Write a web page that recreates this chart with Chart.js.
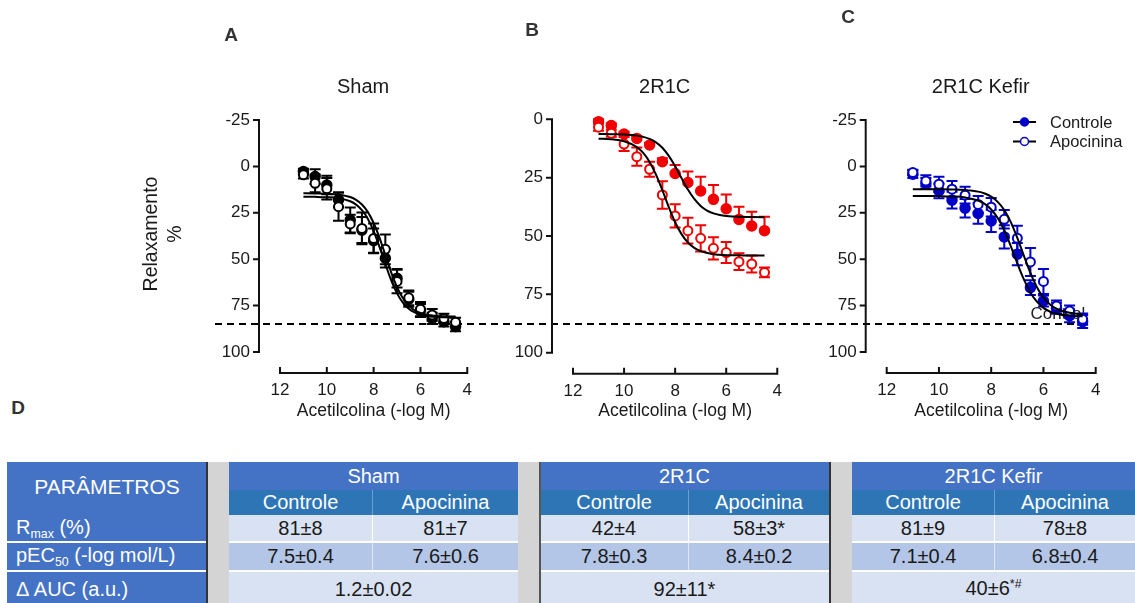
<!DOCTYPE html>
<html lang="pt">
<head>
<meta charset="UTF-8">
<title>Relaxamento à acetilcolina</title>
<script src="https://cdn.jsdelivr.net/npm/chart.js"></script>
<style>
  body { margin: 0; background: #fff; font-family: 'Liberation Sans', Arial, sans-serif; }
  #fig { position: relative; width: 1135px; height: 603px; overflow: hidden; background: #fff; }
  .panel { position: absolute; top: 0; }
  #refLine {
    position: absolute; left: 215px; width: 875px; height: 2px;
    background: repeating-linear-gradient(90deg, #000 0 7px, transparent 7px 12px);
  }
  .tag { position: absolute; font-weight: bold; font-size: 19px; color: #333; transform: translate(-50%, -50%); }
  .cell {
    position: absolute; box-sizing: border-box; display: flex; align-items: center;
    justify-content: center; font-size: 20px; color: #1a1a1a; white-space: nowrap;
  }
  .cell.head { color: #fff; }
  .cell.side { color: #fff; justify-content: flex-start; padding-left: 9px; }
  .cell sub { font-size: 0.62em; vertical-align: -0.3em; }
  .cell sup { font-size: 0.62em; vertical-align: 0.6em; }
  .vline { position: absolute; width: 2px; }
</style>
</head>
<body>
<div id="fig">
  <div id="refLine"></div>
  <canvas id="cA" class="panel"></canvas>
  <canvas id="cB" class="panel"></canvas>
  <canvas id="cC" class="panel"></canvas>
  <div class="tag" style="left:18px; top:408px;">D</div>
</div>

<script>
// ---- data ----
const doses = [11, 10.5, 10, 9.5, 9, 8.5, 8, 7.5, 7, 6.5, 6, 5.5, 5, 4.5];

const shamCtrl    = [2.8, 5.5, 10, 18, 28.9, 34.3, 40, 49.5, 60.3, 71.6, 77.7, 81.9, 83.7, 86.3];
const shamCtrlErr = [1.5, 4, 5, 4, 6.7, 7, 6.5, 5, 5, 4, 3.5, 3, 2.5, 2.5];
const shamApo     = [4.5, 9.1, 12, 21.7, 31, 33.4, 38.8, 44.7, 62, 70.8, 76.9, 80, 81.9, 84];
const shamApoErr  = [2, 4.8, 5.8, 7.6, 5, 8.5, 8, 8, 6.3, 4, 3.8, 3.2, 2.5, 2.5];

const r1cCtrl    = [1.0, 2.7, 6.3, 8.2, 11, 18.2, 23.2, 27.1, 30.7, 34.3, 38.3, 42.9, 45.7, 47.7];
const r1cCtrlErr = [1, 1, 1, 1, 1, 1.5, 3.6, 4.7, 6.1, 6.1, 6.1, 5.4, 6.1, 6];
const r1cApo     = [3.4, 6.0, 10.6, 16, 21.4, 32.4, 41.4, 47.7, 51, 55.3, 57.1, 61, 62, 65.6];
const r1cApoErr  = [1.5, 1.5, 3, 3.9, 3.2, 5.9, 5, 5.5, 5.6, 4.8, 4.5, 3.6, 3.6, 2.1];

const kefCtrl    = [4.2, 9.2, 13.2, 18.2, 22.5, 25.4, 29.4, 38, 47.3, 65.3, 72.5, 76.4, 80.5, 83.6];
const kefCtrlErr = [2, 3, 4, 4.5, 5, 5.5, 6, 6.3, 6, 4, 3, 3, 3.5, 3.5];
const kefApo     = [3.3, 7.8, 9.6, 12.3, 15.5, 20.5, 22, 28.5, 38.7, 51.5, 62, 75.2, 77.9, 82.3];
const kefApoErr  = [1.5, 3, 4, 4.5, 4.5, 4.5, 5, 5, 6.7, 7.6, 6.7, 3, 3, 3];

// fitted curves
const shamFitX    = [11, 10.5, 10, 9.5, 9, 8.75, 8.5, 8.25, 8, 7.75, 7.5, 7.25, 7, 6.75, 6.5, 6.25, 6, 5.5, 5, 4.5];
const shamCtrlFit = [14.5, 14.6, 14.7, 15.2, 16.5, 18.0, 20.5, 24.5, 30.5, 38.4, 47.8, 57.1, 65.0, 71.0, 75.0, 77.5, 78.9, 80.3, 80.8, 80.9];
const shamApoFit  = [16.3, 16.4, 16.6, 17.1, 18.8, 20.6, 23.6, 28.2, 34.9, 43.4, 52.6, 61.4, 68.4, 73.4, 76.7, 78.7, 79.9, 81.0, 81.3, 81.4];

const r1cCtrlFitX = [11, 10.5, 10, 9.5, 9, 8.75, 8.5, 8.25, 8, 7.75, 7.5, 7.25, 7, 6.75, 6.5, 6.25, 6, 5.5, 5, 4.5];
const r1cCtrlFit  = [6.3, 6.4, 6.5, 7.0, 8.4, 9.9, 12.2, 15.7, 20.1, 25.2, 30.1, 34.1, 37.1, 39.1, 40.3, 41.0, 41.4, 41.8, 41.9, 42.0];
const r1cApoFitX  = [11, 10.5, 10, 9.5, 9.25, 9, 8.75, 8.5, 8.25, 8, 7.75, 7.5, 7.25, 7, 6.5, 6, 5.5, 5, 4.5];
const r1cApoFit   = [8.3, 8.6, 9.4, 11.9, 14.4, 18.3, 23.7, 30.4, 37.6, 44.1, 49.2, 52.8, 55.1, 56.5, 57.8, 58.2, 58.3, 58.4, 58.4];

const kefFitX    = [11, 10.5, 10, 9.5, 9, 8.5, 8.25, 8, 7.75, 7.5, 7.25, 7, 6.75, 6.5, 6.25, 6, 5.75, 5.5, 5, 4.5];
const kefCtrlFit = [15.9, 15.9, 16.0, 16.2, 16.7, 18.4, 20.2, 23.2, 27.8, 34.5, 42.9, 52.2, 60.9, 67.9, 72.9, 76.2, 78.2, 79.4, 80.5, 80.8];
const kefApoFit  = [12.3, 12.3, 12.3, 12.4, 12.7, 13.6, 14.6, 16.3, 19.1, 23.5, 30.0, 38.5, 48.1, 57.4, 65.1, 70.7, 74.4, 76.7, 78.9, 79.7];

const shamRefLine = 85;   // dashed reference (Sham Rmax), read on panel A's scale

// table
const tableGroups = ['Sham', '2R1C', '2R1C Kefir'];
const tableSubCols = ['Controle', 'Apocinina'];
const rowLabels = ['R<sub>max</sub> (%)', 'pEC<sub>50</sub> (-log mol/L)', 'Δ AUC (a.u.)'];
const rmaxValues = [['81±8', '81±7'], ['42±4', '58±3*'], ['81±9', '78±8']];
const pec50Values = [['7.5±0.4', '7.6±0.6'], ['7.8±0.3', '8.4±0.2'], ['7.1±0.4', '6.8±0.4']];
const aucValues = ['1.2±0.02', '92±11*', '40±6<sup>*#</sup>'];

// ---- drawing ----
const FONT = "'Liberation Sans', Arial, sans-serif";
Chart.defaults.font.family = FONT;
Chart.defaults.color = '#1a1a1a';

const pts = (xs, ys) => xs.map((x, i) => ({ x, y: ys[i] }));

const gpPlugin = {
  id: 'gp',
  beforeDatasetsDraw(chart, args, o) {
    const ctx = chart.ctx, ys = chart.scales.y, xs = chart.scales.x;
    if (o.note) {
      ctx.save();
      ctx.font = '17px ' + FONT;
      ctx.fillStyle = '#222';
      ctx.textAlign = 'center';
      ctx.textBaseline = 'middle';
      ctx.fillText(o.note.text, xs.getPixelForValue(o.note.x), ys.getPixelForValue(o.note.y));
      ctx.restore();
    }
    chart.data.datasets.forEach((ds, i) => {
      if (!ds.errors) return;
      const meta = chart.getDatasetMeta(i);
      ctx.save();
      ctx.strokeStyle = ds.borderColor;
      ctx.lineWidth = 2;
      meta.data.forEach((pt, j) => {
        const v = ds.data[j].y, e = ds.errors[j];
        const yUp = ys.getPixelForValue(v - e), yDn = ys.getPixelForValue(v + e);
        const upOnly = ds.errDir === 'up';
        ctx.beginPath();
        ctx.moveTo(pt.x, upOnly ? pt.y : yDn);
        ctx.lineTo(pt.x, yUp);
        ctx.moveTo(pt.x - 5.5, yUp); ctx.lineTo(pt.x + 5.5, yUp);
        if (!upOnly) { ctx.moveTo(pt.x - 5.5, yDn); ctx.lineTo(pt.x + 5.5, yDn); }
        ctx.stroke();
      });
      ctx.restore();
    });
  },
  afterDraw(chart, args, o) {
    const ctx = chart.ctx, ca = chart.chartArea, ys = chart.scales.y, xs = chart.scales.x;
    const off = o.canvasLeft;
    ctx.save();
    ctx.strokeStyle = '#111';
    ctx.lineWidth = 2;
    // y axis, offset to the left
    const ax = ca.left - 21;
    ctx.beginPath();
    ctx.moveTo(ax, ys.getPixelForValue(ys.min) - 1);
    ctx.lineTo(ax, ys.getPixelForValue(ys.max) + 1);
    ys.ticks.forEach(t => {
      const py = ys.getPixelForValue(t.value);
      ctx.moveTo(ax, py); ctx.lineTo(ax - 6, py);
    });
    // x axis, offset below
    const ay = ca.bottom + 21;
    ctx.moveTo(xs.getPixelForValue(xs.max) - 1, ay);
    ctx.lineTo(xs.getPixelForValue(xs.min) + 1, ay);
    xs.ticks.forEach(t => {
      const px = xs.getPixelForValue(t.value);
      ctx.moveTo(px, ay); ctx.lineTo(px, ay - 6);
    });
    ctx.stroke();

    ctx.fillStyle = '#1a1a1a';
    ctx.textAlign = 'center';
    ctx.textBaseline = 'middle';
    ctx.font = '20px ' + FONT;
    ctx.fillText(o.title, (ax + ca.right) / 2, 87.5);
    ctx.font = '17.5px ' + FONT;
    ctx.fillText('Acetilcolina (-log M)', (ca.left + ca.right) / 2, 411);
    ctx.font = 'bold 19px ' + FONT;
    ctx.fillStyle = '#333';
    ctx.fillText(o.letter, o.letterPos[0] - off, o.letterPos[1]);

    if (o.yTitle) {
      ctx.fillStyle = '#1a1a1a';
      ctx.font = '19.5px ' + FONT;
      o.yTitle.forEach((line, k) => {
        ctx.save();
        ctx.translate(152 + k * 24 - off, 234);
        ctx.rotate(-Math.PI / 2);
        ctx.fillText(line, 0, 0);
        ctx.restore();
      });
    }

    if (o.legend) {
      ctx.font = '16.5px ' + FONT;
      ctx.textAlign = 'left';
      o.legend.forEach((idx, k) => {
        const ds = chart.data.datasets[idx];
        const y = 122 + k * 19.5;
        const x0 = 1013 - off;
        ctx.strokeStyle = '#000';
        ctx.lineWidth = 2;
        ctx.beginPath(); ctx.moveTo(x0, y); ctx.lineTo(x0 + 23, y); ctx.stroke();
        ctx.beginPath(); ctx.arc(x0 + 11.5, y, 4, 0, Math.PI * 2);
        ctx.fillStyle = ds.backgroundColor; ctx.fill();
        ctx.strokeStyle = ds.borderColor; ctx.lineWidth = 1.5; ctx.stroke();
        ctx.fillStyle = '#1a1a1a';
        ctx.fillText(ds.label, x0 + 37, y + 1);
      });
    }
    ctx.restore();
  }
};

function makePanel(p) {
  const cv = document.getElementById(p.id);
  const H = 440;
  cv.width = p.canvasW; cv.height = H;
  cv.style.left = p.canvasLeft + 'px';
  cv.style.width = p.canvasW + 'px'; cv.style.height = H + 'px';
  const a = p.area;
  const color = p.color;
  const datasets = [
    { label: 'Controle', data: pts(doses, p.ctrl), errors: p.ctrlErr, errDir: p.ctrlErrDir || 'both',
      backgroundColor: color, borderColor: color, pointRadius: 5, borderWidth: 1.5, order: 2, clip: false },
    { label: 'Apocinina', data: pts(doses, p.apo), errors: p.apoErr, errDir: 'both',
      backgroundColor: '#fff', borderColor: color, pointRadius: 4.5, borderWidth: 2, order: 1, clip: false },
    { label: 'fit ctrl', data: pts(p.ctrlFitX, p.ctrlFit), showLine: true, pointRadius: 0,
      borderColor: '#000', borderWidth: 2, cubicInterpolationMode: 'monotone', order: 0 },
    { label: 'fit apo', data: pts(p.apoFitX, p.apoFit), showLine: true, pointRadius: 0,
      borderColor: '#000', borderWidth: 2, cubicInterpolationMode: 'monotone', order: 0 }
  ];
  return new Chart(cv, {
    type: 'scatter',
    data: { datasets },
    plugins: [gpPlugin],
    options: {
      responsive: false,
      animation: false,
      events: [],
      layout: { padding: { left: 0, top: a.t, right: p.canvasLeft + p.canvasW - a.r, bottom: 0 } },
      plugins: {
        legend: { display: false },
        tooltip: { enabled: false },
        gp: {
          canvasLeft: p.canvasLeft, title: p.title, letter: p.letter, letterPos: p.letterPos,
          yTitle: p.yTitle || null, legend: p.legend || null, note: p.note || null
        }
      },
      scales: {
        x: {
          type: 'linear', min: 4, max: 12, reverse: true,
          afterFit: s => { s.height = H - a.b; },
          grid: { display: false, drawTicks: false }, border: { display: false },
          ticks: { stepSize: 2, padding: 28, font: { size: 17 }, maxRotation: 0, autoSkip: false }
        },
        y: {
          type: 'linear', min: p.yMin, max: 100, reverse: true,
          afterFit: s => { s.width = a.l - p.canvasLeft; },
          grid: { display: false, drawTicks: false }, border: { display: false },
          ticks: { stepSize: 25, padding: 30, font: { size: 17 }, autoSkip: false }
        }
      }
    }
  });
}

const chartA = makePanel({
  id: 'cA', canvasLeft: 120, canvasW: 380, area: { l: 280, r: 489, t: 120, b: 352 }, yMin: -25,
  title: 'Sham', letter: 'A', letterPos: [231, 36], yTitle: ['Relaxamento', '%'], color: '#000',
  ctrl: shamCtrl, ctrlErr: shamCtrlErr, apo: shamApo, apoErr: shamApoErr,
  ctrlFitX: shamFitX, ctrlFit: shamCtrlFit, apoFitX: shamFitX, apoFit: shamApoFit
});
makePanel({
  id: 'cB', canvasLeft: 490, canvasW: 320, area: { l: 573, r: 782, t: 119.3, b: 352.7 }, yMin: 0,
  title: '2R1C', letter: 'B', letterPos: [532, 31], color: '#f00000', ctrlErrDir: 'up',
  ctrl: r1cCtrl, ctrlErr: r1cCtrlErr, apo: r1cApo, apoErr: r1cApoErr,
  ctrlFitX: r1cCtrlFitX, ctrlFit: r1cCtrlFit, apoFitX: r1cApoFitX, apoFit: r1cApoFit
});
makePanel({
  id: 'cC', canvasLeft: 800, canvasW: 335, area: { l: 886.7, r: 1095.7, t: 120, b: 352 }, yMin: -25,
  title: '2R1C Kefir', letter: 'C', letterPos: [848, 18], color: '#0000c8', legend: [0, 1],
  note: { text: 'Control', x: 5.45, y: 79.5 },
  ctrl: kefCtrl, ctrlErr: kefCtrlErr, apo: kefApo, apoErr: kefApoErr,
  ctrlFitX: kefFitX, ctrlFit: kefCtrlFit, apoFitX: kefFitX, apoFit: kefApoFit
});

document.getElementById('refLine').style.top = (chartA.scales.y.getPixelForValue(shamRefLine) - 1) + 'px';

// ---- table D ----
const fig = document.getElementById('fig');
const rowY = [462, 490, 515, 541, 570, 606];
const blocks = [[229, 518, 373], [540, 829, 689], [852, 1135, 995]];
const C_HEAD = '#4472c4', C_SUB = '#2e75b6', C_LIGHT = '#d9e2f3', C_MID = '#b4c6e7', C_GAP = '#d4d4d4';

function cell(x0, x1, y0, y1, bg, html, cls, extra) {
  const d = document.createElement('div');
  d.className = 'cell ' + (cls || '');
  Object.assign(d.style, {
    left: x0 + 'px', top: y0 + 'px', width: (x1 - x0) + 'px', height: (y1 - y0) + 'px', background: bg
  }, extra || {});
  d.innerHTML = '<span>' + html + '</span>';
  fig.appendChild(d);
}

cell(207, 1135, rowY[0], rowY[5], C_GAP, '');
cell(7, 207, rowY[0], rowY[2], C_HEAD, 'PARÂMETROS', 'head', { fontSize: '21px', paddingBottom: '4px' });
rowLabels.forEach((lab, r) => {
  cell(7, 207, rowY[r + 2], rowY[r + 3], C_HEAD, lab, 'side', r ? { borderTop: '2px solid #fff' } : {});
});

blocks.forEach(([x0, x1, xm], g) => {
  cell(x0, x1, rowY[0], rowY[1], C_HEAD, tableGroups[g], 'head');
  cell(x0, xm, rowY[1], rowY[2], C_SUB, tableSubCols[0], 'head', { borderRight: '1px solid #6d9fd0' });
  cell(xm, x1, rowY[1], rowY[2], C_SUB, tableSubCols[1], 'head');
  cell(x0, xm, rowY[2], rowY[3], C_LIGHT, rmaxValues[g][0], '', { borderRight: '1px solid #fff' });
  cell(xm, x1, rowY[2], rowY[3], C_LIGHT, rmaxValues[g][1]);
  cell(x0, xm, rowY[3], rowY[4], C_MID, pec50Values[g][0], '', { borderRight: '1px solid #dfe7f5', borderTop: '2px solid #fff' });
  cell(xm, x1, rowY[3], rowY[4], C_MID, pec50Values[g][1], '', { borderTop: '2px solid #fff' });
  cell(x0, x1, rowY[4], rowY[5], C_LIGHT, aucValues[g], '', { borderTop: '2px solid #fff' });
});

[[206, '#333'], [539, '#555'], [829, '#333']].forEach(([x, c]) => {
  const v = document.createElement('div');
  v.className = 'vline';
  Object.assign(v.style, { left: x + 'px', top: rowY[0] + 'px', height: (rowY[5] - rowY[0]) + 'px', background: c });
  fig.appendChild(v);
});
</script>
</body>
</html>
